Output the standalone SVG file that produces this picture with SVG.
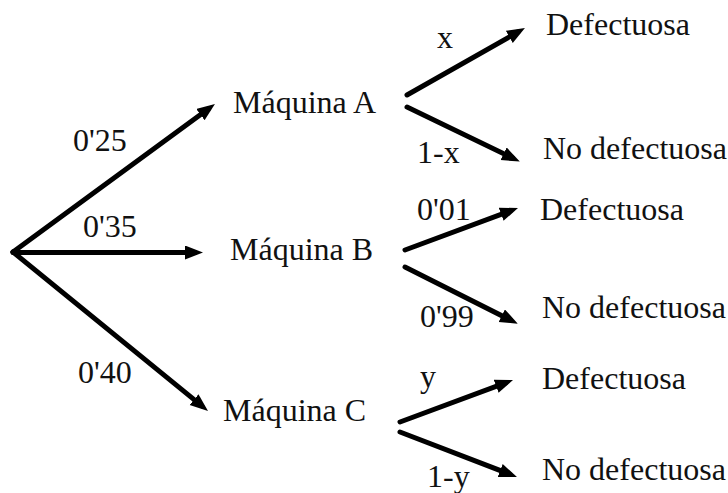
<svg xmlns="http://www.w3.org/2000/svg" width="728" height="493" viewBox="0 0 728 493">
<defs>
<marker id="ah" markerUnits="userSpaceOnUse" markerWidth="20" markerHeight="16" refX="10" refY="7" orient="auto">
<path d="M0,0 L18,7 L0,14 z" fill="#000"/>
</marker>
<style>
text { font-family: "Liberation Serif", "Times New Roman", serif; font-size: 32px; fill: #111; }
.c line { stroke: #000; stroke-width: 5; stroke-linecap: round; marker-end: url(#ah); }
</style>
</defs>
<rect width="728" height="493" fill="#fff"/>
<g id="connectors" class="c">
<line x1="13" y1="252" x2="208.5" y2="108.7"/>
<line x1="13" y1="252.5" x2="195" y2="252.5"/>
<line x1="13" y1="252" x2="201.8" y2="405.9"/>
<line x1="407" y1="95" x2="518" y2="32"/>
<line x1="407" y1="107" x2="512.6" y2="158.1"/>
<line x1="405" y1="250" x2="510.5" y2="210.8"/>
<line x1="405" y1="267" x2="510.7" y2="320.2"/>
<line x1="400" y1="422" x2="505.5" y2="382.8"/>
<line x1="400" y1="432" x2="509.5" y2="474.1"/>
</g>
<g id="edge-labels">
<text x="73" y="151">0'25</text>
<text x="83" y="237">0'35</text>
<text x="78" y="383">0'40</text>
<text x="437" y="48">x</text>
<text x="417" y="163">1-x</text>
<text x="417" y="220">0'01</text>
<text x="420" y="327">0'99</text>
<text x="420" y="387">y</text>
<text x="427" y="487">1-y</text>
</g>
<g id="maquina-a"><text x="233" y="113">Máquina A</text></g>
<g id="maquina-b"><text x="230" y="260">Máquina B</text></g>
<g id="maquina-c"><text x="223" y="421">Máquina C</text></g>
<g id="a-def"><text x="546" y="35">Defectuosa</text></g>
<g id="a-nodef"><text x="543" y="159">No defectuosa</text></g>
<g id="b-def"><text x="540" y="220">Defectuosa</text></g>
<g id="b-nodef"><text x="542" y="318">No defectuosa</text></g>
<g id="c-def"><text x="542" y="389">Defectuosa</text></g>
<g id="c-nodef"><text x="542" y="480">No defectuosa</text></g>
</svg>
